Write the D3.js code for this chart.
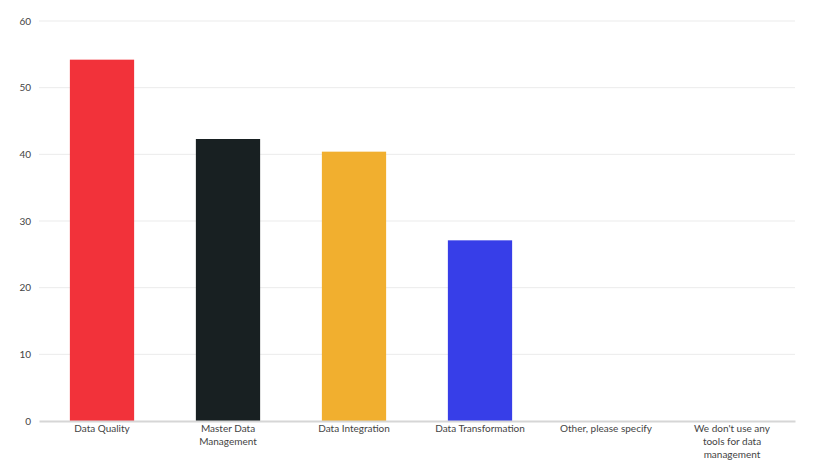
<!DOCTYPE html>
<html>
<head>
  <meta charset="utf-8">
  <title>Data management tools</title>
  <style>
    body { margin: 0; background: #fff; }
    svg text { font-family: Lato, "Open Sans", sans-serif; }
    .grid line { stroke: #ebebeb; }
    .y-axis text { fill: #444; font-size: 10px; }
    .x-axis text { fill: #444; font-size: 10px; }
  </style>
  <script src="https://d3js.org/d3.v7.min.js"></script>
</head>
<body>
<script>
  var categories = ['Data Quality', 'Master Data Management', 'Data Integration',
    'Data Transformation', 'Other, please specify', "We don't use any tools for data management"];
  var values = [54.2, 42.3, 40.4, 27.1, 0, 0];
  var colors = ['#f2323a', '#182022', '#f1af2f', '#373ee8', '#999', '#999'];
  var yTicks = [0, 10, 20, 30, 40, 50, 60];

  var width = 816, height = 466;
  var margin = {top: 21, right: 21, bottom: 45, left: 39};

  var svg = d3.select('body').append('svg')
    .attr('width', width)
    .attr('height', height);

  var x = d3.scaleBand()
    .domain(categories)
    .range([margin.left, width - margin.right])
    .paddingInner(0.49)
    .paddingOuter(0.245);

  var y = d3.scaleLinear()
    .domain([0, 60])
    .range([height - margin.bottom, margin.top]);

  // horizontal grid
  svg.append('g')
    .attr('class', 'grid')
    .selectAll('line')
    .data(yTicks.slice(1))
    .enter()
    .append('line')
    .attr('x1', margin.left)
    .attr('x2', width - margin.right)
    .attr('y1', function (d) { return y(d); })
    .attr('y2', function (d) { return y(d); });

  var yAxis = svg.append('g')
    .attr('class', 'y-axis')
    .attr('transform', 'translate(' + margin.left + ',0)')
    .call(d3.axisLeft(y).tickValues(yTicks).tickSize(0).tickPadding(8));
  yAxis.select('.domain').remove();

  svg.append('g')
    .selectAll('rect')
    .data(values)
    .enter()
    .append('rect')
    .attr('x', function (d, i) { return x(categories[i]); })
    .attr('y', function (d) { return y(d); })
    .attr('width', x.bandwidth())
    .attr('height', function (d) { return y(0) - y(d); })
    .style('fill', function (d, i) { return colors[i]; });

  var xAxis = svg.append('g')
    .attr('class', 'x-axis')
    .attr('transform', 'translate(0,' + y(0) + ')')
    .call(d3.axisBottom(x).tickSize(0).tickPadding(4));
  xAxis.select('.domain')
    .attr('stroke', '#d6d6d6')
    .attr('stroke-width', 2);

  // wrap long labels
  xAxis.selectAll('.tick text').each(function () {
    var text = d3.select(this);
    var words = text.text().split(/\s+/);
    var dy = parseFloat(text.attr('dy'));
    var yPos = text.attr('y');
    text.text(null);
    var line = [], lineNo = 0;
    var tspan = text.append('tspan').attr('x', 0).attr('y', yPos).attr('dy', dy + 'em');
    words.forEach(function (w) {
      line.push(w);
      tspan.text(line.join(' '));
      if (tspan.node().getComputedTextLength() > 92 && line.length > 1) {
        line.pop();
        tspan.text(line.join(' '));
        line = [w];
        lineNo++;
        tspan = text.append('tspan').attr('x', 0).attr('y', yPos)
          .attr('dy', (dy + lineNo * 1.3) + 'em').text(w);
      }
    });
  });
</script>
</body>
</html>
